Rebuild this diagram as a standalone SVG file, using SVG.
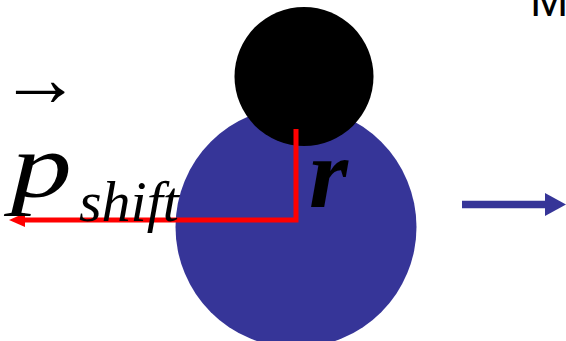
<svg xmlns="http://www.w3.org/2000/svg" width="566" height="341" viewBox="0 0 566 341">
<style>
.math{font-family:"Liberation Serif","Times New Roman",serif;font-style:italic;fill:#000}
.red{stroke:#ff0000;stroke-width:5;fill:none}
</style>
<defs>
<marker id="redHead" markerUnits="userSpaceOnUse" markerWidth="16" markerHeight="16" refX="1" refY="8" orient="auto-start-reverse" viewBox="0 0 16 16">
<path d="M0,1 L16,8 L0,15 Z" fill="#ff0000"/>
</marker>
</defs>
<rect width="566" height="341" fill="#ffffff"/>
<g id="body">
<circle cx="296" cy="227" r="120.5" fill="#363598"/>
</g>
<g id="head">
<circle cx="304" cy="76.5" r="69.5" fill="#000000"/>
</g>
<g id="connectors">
<path class="red" d="M296,129 L296,220 L24,220" marker-end="url(#redHead)"/>
<path d="M462,204.5 L546,204.5" stroke="#363598" stroke-width="7.5" fill="none"/>
<path d="M545,193 L566,204.5 L545,216 Z" fill="#363598"/>
</g>
<g id="labels">
<text x="-1" y="106" font-family="Liberation Serif, serif" font-size="82" fill="#000">→</text>
<text class="math" transform="translate(11,197) scale(1.22,0.92)" x="0" y="0" font-size="100">p</text>
<text class="math" x="79" y="221" font-size="58">shift</text>
<text class="math" x="309" y="207" font-size="100" font-weight="bold">r</text>
<text x="530" y="16" font-family="Liberation Sans, Arial, sans-serif" font-size="46" fill="#000">M</text>
</g>
</svg>
